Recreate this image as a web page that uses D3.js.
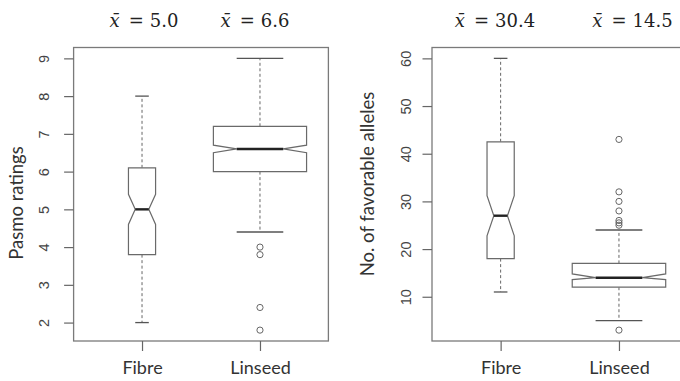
<!DOCTYPE html>
<html>
<head>
<meta charset="utf-8">
<script src="https://cdn.jsdelivr.net/npm/d3@7"></script>
<style>
  body { margin: 0; background: #fff; }
  svg { display: block; }
  .tick-label { font-family: "Liberation Sans", Arial, sans-serif; font-size: 14.5px; fill: #444; }
  .axis-title { font-family: Lato, "Open Sans", sans-serif; font-size: 18.5px; fill: #333; }
  .cat-label { font-family: Lato, "Open Sans", sans-serif; font-size: 18px; fill: #333; }
  .mean-title { font-family: "DejaVu Serif", serif; font-size: 18px; fill: #222; }
</style>
</head>
<body>
<div id="chart"></div>
<script>
//Groups shared by both panels
const groups = ["Fibre", "Linseed"];

//Left panel: Pasmo ratings
const pasmoMeans = ["5.0", "6.6"];
const pasmoLow = [2.0, 4.4];
const pasmoQ1 = [3.8, 6.0];
const pasmoMedian = [5.0, 6.6];
const pasmoQ3 = [6.1, 7.2];
const pasmoHigh = [8.0, 9.0];
const pasmoNotchLo = [4.6, 6.5];
const pasmoNotchHi = [5.4, 6.7];
const pasmoOutliers = [[], [4.0, 3.8, 2.4, 1.8]];
const pasmoTicks = [2, 3, 4, 5, 6, 7, 8, 9];

//Right panel: number of favorable alleles
const allelesMeans = ["30.4", "14.5"];
const allelesLow = [11, 5];
const allelesQ1 = [18, 12];
const allelesMedian = [27, 14];
const allelesQ3 = [42.5, 17];
const allelesHigh = [60, 24];
const allelesNotchLo = [22.8, 13.6];
const allelesNotchHi = [31.2, 14.8];
const allelesOutliers = [[], [43, 32, 30, 28, 26, 25.5, 25, 3]];
const allelesTicks = [10, 20, 30, 40, 50, 60];

//Relative box widths (varwidth look)
const boxWidthFrac = [0.23, 0.79];

var svg = d3.select("#chart").append("svg")
  .attr("width", 680)
  .attr("height", 381)

function buildRows(low, q1, med, q3, high, nLo, nHi, outl) {
  return groups.map(function(g, i) {
    return {group: g, idx: i, low: low[i], q1: q1[i], med: med[i], q3: q3[i],
            high: high[i], nLo: nLo[i], nHi: nHi[i], out: outl[i]}
  })
}

//Draws one boxplot panel
function drawPanel(opt) {
  var rows = opt.rows
  var all = []
  rows.forEach(function(r) { all.push(r.low, r.high); all = all.concat(r.out) })
  var lo = d3.min(all), hi = d3.max(all)
  var pad = (hi - lo) * 0.04

  var y = d3.scaleLinear().domain([lo - pad, hi + pad]).range([341, 47.5])
  var x = d3.scaleLinear().domain([0.42, 2.58]).range(opt.xRange)

  var g = svg.append("g")

  //Frame
  g.append("rect")
    .attr("x", x(0.42)).attr("y", y(hi + pad))
    .attr("width", x(2.58) - x(0.42)).attr("height", y(lo - pad) - y(hi + pad))
    .attr("fill", "none").attr("stroke", "#7a7a7a").attr("stroke-width", 1.3)

  //Y axis
  var yAxis = d3.axisLeft(y).tickValues(opt.ticks).tickSize(9.5).tickPadding(0).tickFormat(d3.format("d"))
  var ya = g.append("g").attr("transform", "translate(" + x(0.42) + ",0)").call(yAxis)
  ya.select(".domain").remove()
  ya.selectAll(".tick line").attr("stroke", "#666").attr("stroke-width", 1.2)
  ya.selectAll(".tick text")
    .attr("class", "tick-label")
    .attr("x", null).attr("dy", null)
    .attr("text-anchor", "middle")
    .attr("transform", "translate(" + (-opt.tickLabelOffset) + ",0) rotate(-90)")
    .attr("dy", "0.35em")

  //X axis
  var xa = g.append("g").attr("transform", "translate(0," + y(lo - pad) + ")")
    .call(d3.axisBottom(x).tickValues([1, 2]).tickSize(10).tickFormat(function(d) { return groups[d - 1] }))
  xa.select(".domain").remove()
  xa.selectAll(".tick line").attr("stroke", "#666").attr("stroke-width", 1.2)
  xa.selectAll(".tick text").attr("class", "cat-label").attr("y", 33).attr("dy", null)

  //Axis title
  g.append("text")
    .attr("class", "axis-title")
    .attr("text-anchor", "middle")
    .attr("transform", "translate(" + opt.titleX + "," + opt.titleY + ") rotate(-90)")
    .attr("dy", "0.35em")
    .text(opt.yTitle)

  //Mean titles above each box
  opt.means.forEach(function(m, i) {
    var t = g.append("text").attr("class", "mean-title")
      .attr("x", opt.meanX[i]).attr("y", 27).attr("text-anchor", "middle")
    t.append("tspan").attr("font-style", "italic").text("x\u0304")
    t.append("tspan").attr("dx", 9).text("=")
    t.append("tspan").attr("dx", 6).text(m)
  })

  var unit = x(2) - x(1)

  //Whiskers (dashed)
  rows.forEach(function(r) {
    var cx = x(r.idx + 1)
    var hw = boxWidthFrac[r.idx] * unit / 2
    g.append("line").attr("x1", cx).attr("x2", cx).attr("y1", y(r.q3)).attr("y2", y(r.high))
      .attr("stroke", "#666").attr("stroke-dasharray", "3,2.5")
    g.append("line").attr("x1", cx).attr("x2", cx).attr("y1", y(r.q1)).attr("y2", y(r.low))
      .attr("stroke", "#666").attr("stroke-dasharray", "3,2.5")
    //staples
    ;[r.low, r.high].forEach(function(v) {
      g.append("line").attr("x1", cx - hw / 2).attr("x2", cx + hw / 2)
        .attr("y1", y(v)).attr("y2", y(v))
        .attr("stroke", "#555").attr("stroke-width", 1.3)
    })
    //notched box
    var pts = [
      [cx - hw, y(r.q1)], [cx - hw, y(r.nLo)], [cx - hw / 2, y(r.med)], [cx - hw, y(r.nHi)],
      [cx - hw, y(r.q3)], [cx + hw, y(r.q3)], [cx + hw, y(r.nHi)], [cx + hw / 2, y(r.med)],
      [cx + hw, y(r.nLo)], [cx + hw, y(r.q1)]
    ]
    g.append("path").attr("d", d3.line()(pts) + "Z")
      .attr("fill", "#fff").attr("stroke", "#6a6a6a").attr("stroke-width", 1.2)
    //median
    g.append("line").attr("x1", cx - hw / 2).attr("x2", cx + hw / 2)
      .attr("y1", y(r.med)).attr("y2", y(r.med))
      .attr("stroke", "#222").attr("stroke-width", 2.4)
    //outliers
    g.selectAll(".out" + r.idx).data(r.out).enter().append("circle")
      .attr("cx", cx).attr("cy", function(d) { return y(d) }).attr("r", 3.1)
      .attr("fill", "none").attr("stroke", "#666").attr("stroke-width", 1)
  })
}

drawPanel({
  rows: buildRows(pasmoLow, pasmoQ1, pasmoMedian, pasmoQ3, pasmoHigh, pasmoNotchLo, pasmoNotchHi, pasmoOutliers),
  ticks: pasmoTicks,
  xRange: [73.6, 328.4],
  tickLabelOffset: 30,
  yTitle: "Pasmo ratings",
  titleX: 16.5, titleY: 203,
  means: pasmoMeans,
  meanX: [144, 255]
})

drawPanel({
  rows: buildRows(allelesLow, allelesQ1, allelesMedian, allelesQ3, allelesHigh, allelesNotchLo, allelesNotchHi, allelesOutliers),
  ticks: allelesTicks,
  xRange: [432, 687.6],
  tickLabelOffset: 26,
  yTitle: "No. of favorable alleles",
  titleX: 368, titleY: 184,
  means: allelesMeans,
  meanX: [495, 632.5]
})
</script>
</body>
</html>
